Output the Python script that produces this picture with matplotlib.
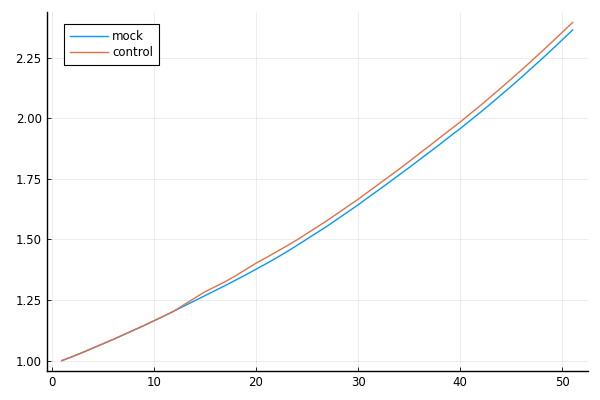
import matplotlib
matplotlib.use('Agg')
import matplotlib.pyplot as plt

# x 值
steps = list(range(1, 52))

# mock 曲线
mock = [1.000, 1.016, 1.033, 1.051, 1.069, 1.087, 1.106, 1.125, 1.144, 1.164,
        1.184, 1.205, 1.226, 1.247, 1.268, 1.289, 1.310, 1.332, 1.354, 1.377,
        1.400, 1.424, 1.449, 1.475, 1.502, 1.529, 1.556, 1.585, 1.614, 1.643,
        1.674, 1.704, 1.735, 1.766, 1.797, 1.829, 1.861, 1.893, 1.926, 1.958,
        1.992, 2.026, 2.061, 2.097, 2.133, 2.170, 2.208, 2.246, 2.285, 2.325,
        2.365]

# control 曲线
control = [1.000, 1.016, 1.033, 1.051, 1.069, 1.087, 1.106, 1.125, 1.144, 1.164,
           1.184, 1.205, 1.232, 1.258, 1.284, 1.305, 1.326, 1.350, 1.376, 1.402,
           1.425, 1.449, 1.473, 1.498, 1.525, 1.552, 1.579, 1.608, 1.637, 1.666,
           1.697, 1.728, 1.759, 1.790, 1.822, 1.855, 1.887, 1.920, 1.953, 1.985,
           2.020, 2.054, 2.090, 2.126, 2.163, 2.200, 2.238, 2.277, 2.316, 2.356,
           2.396]

xticks = [0, 10, 20, 30, 40, 50]
yticks = [1.00, 1.25, 1.50, 1.75, 2.00, 2.25]

fig = plt.figure(figsize=(6, 4), dpi=100)
ax = fig.add_axes([0.0775, 0.073, 0.9025, 0.897])

ax.plot(steps, mock, color='#009AFA', linewidth=1, label='mock')
ax.plot(steps, control, color='#E36F47', linewidth=1, label='control')

ax.set_xlim(-0.5, 52.5)
ax.set_ylim(0.958, 2.439)
ax.set_xticks(xticks)
ax.set_yticks(yticks)
ax.set_yticklabels([f'{v:.2f}' for v in yticks])

# 网格与坐标轴样式
ax.grid(True, color='black', alpha=0.1, linewidth=0.5)
for s in ['top', 'right']:
    ax.spines[s].set_visible(False)
for s in ['left', 'bottom']:
    ax.spines[s].set_linewidth(1)
ax.tick_params(direction='in', length=3, width=0.6, labelsize=8.5, colors='black')

leg = ax.legend(loc='upper left', bbox_to_anchor=(0.032, 0.967), fontsize=8.5,
                fancybox=False, edgecolor='black', framealpha=1,
                handlelength=3.2, handletextpad=0.4, borderpad=0.5,
                labelspacing=0.25, borderaxespad=0)
leg.get_frame().set_linewidth(0.8)

fig.savefig('out.png', dpi=100)
